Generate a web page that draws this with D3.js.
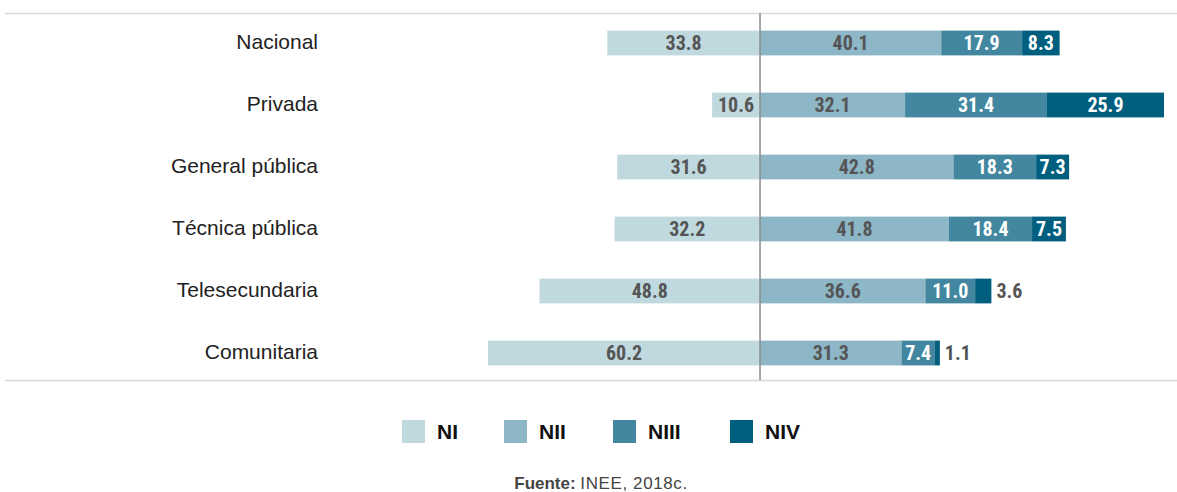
<!DOCTYPE html>
<html>
<head>
<meta charset="utf-8">
<script src="https://cdn.jsdelivr.net/npm/d3@7"></script>
<style>
  body { margin: 0; background: #fff; }
  svg { display: block; }
</style>
</head>
<body>
<svg id="chart"></svg>
<script>
// data
var categories = ["Nacional", "Privada", "General pública", "Técnica pública", "Telesecundaria", "Comunitaria"];
var levels = ["NI", "NII", "NIII", "NIV"];
var NI   = [33.8, 10.6, 31.6, 32.2, 48.8, 60.2];
var NII  = [40.1, 32.1, 42.8, 41.8, 36.6, 31.3];
var NIII = [17.9, 31.4, 18.3, 18.4, 11.0, 7.4];
var NIV  = [8.3, 25.9, 7.3, 7.5, 3.6, 1.1];

var colors = ["#c0d9df", "#8db6c6", "#42879f", "#005f7f"];
var labelColors = ["#555555", "#555555", "#ffffff", "#ffffff"];

var W = 1177, H = 492;
var svg = d3.select("#chart").attr("width", W).attr("height", H);

var narrow = "'Liberation Sans Narrow', 'Roboto Condensed', 'Arial Narrow', sans-serif";

var x = d3.scaleLinear().domain([-60.2, 89.4]).range([488, 1164]);
var y = d3.scaleBand().domain(categories).range([12, 384]).paddingInner(0.6).paddingOuter(0.3);

// frame lines
svg.append("line").attr("x1", 5).attr("x2", W).attr("y1", 13.5).attr("y2", 13.5)
    .style("stroke", "#d9d9d9").style("stroke-width", 1.5);
svg.append("line").attr("x1", 5).attr("x2", W).attr("y1", 380.5).attr("y2", 380.5)
    .style("stroke", "#d9d9d9").style("stroke-width", 1.5);

// build segments
var segs = [];
categories.forEach(function(c, i) {
    segs.push({cat: c, lvl: 0, x0: -NI[i], x1: 0, v: NI[i]});
    var acc = 0;
    [NII, NIII, NIV].forEach(function(arr, j) {
        segs.push({cat: c, lvl: j + 1, x0: acc, x1: acc + arr[i], v: arr[i]});
        acc += arr[i];
    });
});

var g = svg.append("g");

g.selectAll("rect.seg")
    .data(segs)
    .enter().append("rect")
    .attr("class", "seg")
    .attr("x", function(d) { return x(d.x0); })
    .attr("width", function(d) { return x(d.x1) - x(d.x0); })
    .attr("y", function(d) { return y(d.cat); })
    .attr("height", y.bandwidth())
    .style("fill", function(d) { return colors[d.lvl]; });

g.selectAll("text.val")
    .data(segs)
    .enter().append("text")
    .attr("class", "val")
    .attr("x", function(d) {
        var w = x(d.x1) - x(d.x0);
        if (w < 25) return x(d.x1) + 5;
        return (x(d.x0) + x(d.x1)) / 2;
    })
    .attr("y", function(d) { return y(d.cat) + y.bandwidth() / 2; })
    .attr("dy", "0.36em")
    .attr("text-anchor", function(d) { return (x(d.x1) - x(d.x0)) < 25 ? "start" : "middle"; })
    .style("font-family", narrow)
    .style("font-weight", "bold")
    .style("font-size", "20px")
    .style("fill", function(d) { return (x(d.x1) - x(d.x0)) < 25 ? "#555555" : labelColors[d.lvl]; })
    .text(function(d) { return d.v.toFixed(1); });

// zero line
svg.append("line").attr("x1", x(0)).attr("x2", x(0)).attr("y1", 13).attr("y2", 380)
    .style("stroke", "#8c8c8c").style("stroke-width", 1.5);

// category labels
svg.selectAll("text.cat")
    .data(categories)
    .enter().append("text")
    .attr("class", "cat")
    .attr("x", 318)
    .attr("y", function(d) { return y(d) + y.bandwidth() / 2; })
    .attr("dy", "0.3em")
    .attr("text-anchor", "end")
    .style("font-family", "'Liberation Sans', Arial, sans-serif")
    .style("font-size", "21px")
    .style("fill", "#222")
    .text(function(d) { return d; });

// legend
var legX = [402, 504, 613, 730];
var leg = svg.selectAll("g.leg")
    .data(levels)
    .enter().append("g")
    .attr("class", "leg")
    .attr("transform", function(d, i) { return "translate(" + legX[i] + ",420)"; });
leg.append("rect").attr("width", 23).attr("height", 23)
    .style("fill", function(d, i) { return colors[i]; });
leg.append("text").attr("x", 35).attr("y", 11.5).attr("dy", "0.36em")
    .style("font-family", "'Liberation Sans', Arial, sans-serif")
    .style("font-weight", "bold")
    .style("font-size", "21px")
    .style("fill", "#111")
    .text(function(d) { return d; });

// source
var src = svg.append("text")
    .attr("x", 601).attr("y", 489)
    .attr("text-anchor", "middle")
    .style("font-family", "'Liberation Sans', Arial, sans-serif")
    .style("font-size", "17px")
    .style("fill", "#444");
src.append("tspan").style("font-weight", "bold").text("Fuente: ");
src.append("tspan").style("letter-spacing", "0.6px").text("INEE, 2018c.");
</script>
</body>
</html>
